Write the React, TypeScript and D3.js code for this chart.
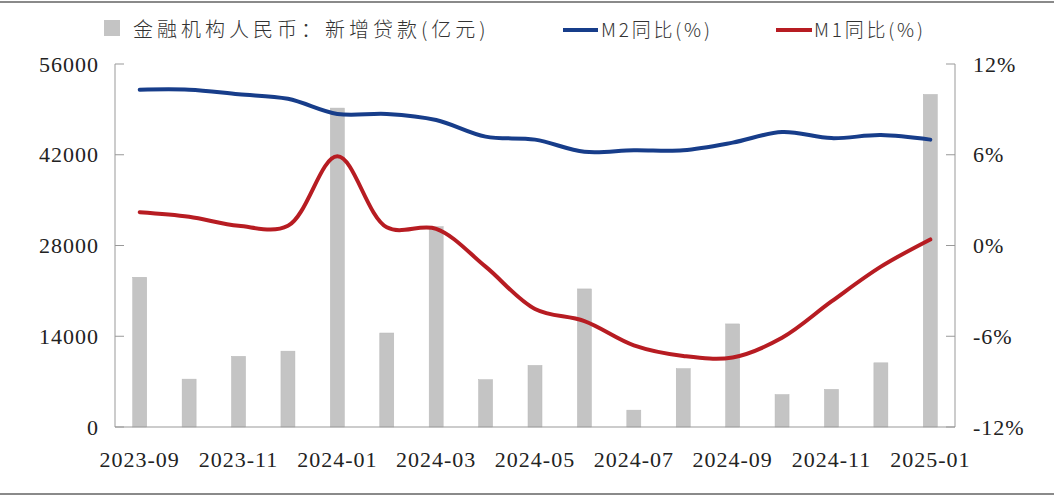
import React from "react";
import * as d3 from "d3";

const months = ["2023-09","2023-10","2023-11","2023-12","2024-01","2024-02","2024-03","2024-04","2024-05","2024-06","2024-07","2024-08","2024-09","2024-10","2024-11","2024-12","2025-01"];
const loans = [23100,7384,10900,11700,49200,14500,30900,7300,9500,21300,2600,9000,15900,5000,5800,9900,51300];
const m2 = [10.3,10.3,10.0,9.7,8.7,8.7,8.3,7.2,7.0,6.2,6.3,6.3,6.8,7.5,7.1,7.3,7.0];
const m1 = [2.2,1.9,1.3,1.3,5.9,1.2,1.1,-1.4,-4.2,-5.0,-6.6,-7.3,-7.4,-6.1,-3.7,-1.4,0.4];
const leftTicks = [0,14000,28000,42000,56000];
const rightTicks = [-12,-6,0,6,12];
const legendLabels = ["金融机构人民币：新增贷款(亿元)","M2同比(%)","M1同比(%)"];

const W = 1054, H = 500;
const L = 115, R = 955, T = 64, B = 427;

export default function App() {
  const x = d3.scaleBand<string>().domain(months).range([L, R]);
  const yL = d3.scaleLinear().domain([0, 56000]).range([B, T]);
  const yR = d3.scaleLinear().domain([-12, 12]).range([B, T]);
  const bw = 14;
  const cx = (m: string) => (x(m) as number) + x.bandwidth() / 2;
  const line = (vals: number[]) =>
    d3.line<number>().x((_, i) => cx(months[i])).y(v => yR(v)).curve(d3.curveCatmullRom.alpha(0.5))(vals) as string;
  const numFont = "'Liberation Serif', 'Times New Roman', serif";
  const cjkFont = "'Noto Sans CJK SC', sans-serif";
  return (
    <div style={{ position: "absolute", left: 0, top: 0 }}>
      <svg width={W} height={H} style={{ display: "block", background: "#fff" }}>
        <line x1={0} x2={W} y1={2} y2={2} stroke="#8a8a8a" strokeWidth={2} />
        <line x1={0} x2={W} y1={494} y2={494} stroke="#8a8a8a" strokeWidth={2} />
        {/* legend */}
        <rect x={104} y={20} width={16} height={16} fill="#c4c4c4" />
        <text x={133} y={37} fontFamily={cjkFont} fontSize={20} fill="#333" fontWeight={300} letterSpacing={4}>{legendLabels[0]}</text>
        <line x1={563} x2={598} y1={30} y2={30} stroke="#173d8a" strokeWidth={4} />
        <text x={601} y={37} fontFamily={cjkFont} fontSize={19} fill="#333" fontWeight={300} letterSpacing={2.8}>{legendLabels[1]}</text>
        <line x1={776} x2={812} y1={30} y2={30} stroke="#b71c22" strokeWidth={4} />
        <text x={814} y={37} fontFamily={cjkFont} fontSize={19} fill="#333" fontWeight={300} letterSpacing={2.8}>{legendLabels[2]}</text>
        {/* bars */}
        {loans.map((v, i) => (
          <rect key={i} x={cx(months[i]) - bw / 2} y={yL(v)} width={bw} height={B - yL(v)} fill="#c4c4c4" stroke="#b8b8b8" strokeWidth={0.5} />
        ))}
        {/* axes */}
        <line x1={L} x2={L} y1={T} y2={B} stroke="#999" strokeWidth={1} />
        <line x1={R} x2={R} y1={T} y2={B} stroke="#999" strokeWidth={1} />
        <line x1={L} x2={R} y1={B} y2={B} stroke="#999" strokeWidth={1} />
        {leftTicks.map(t => (
          <g key={t}>
            <line x1={L} x2={L + 9} y1={yL(t)} y2={yL(t)} stroke="#999" />
            <text x={L - 16} y={yL(t)} dy="0.35em" textAnchor="end" fontFamily={numFont} fontSize={22} letterSpacing={1} fill="#222">{t}</text>
          </g>
        ))}
        {rightTicks.map(t => (
          <g key={t}>
            <line x1={R - 9} x2={R} y1={yR(t)} y2={yR(t)} stroke="#999" />
            <text x={R + 18} y={yR(t)} dy="0.35em" textAnchor="start" fontFamily={numFont} fontSize={22} letterSpacing={1} fill="#222">{t + "%"}</text>
          </g>
        ))}
        {months.map((m, i) => i % 2 === 0 ? (
          <text key={m} x={cx(m)} y={467} textAnchor="middle" fontFamily={numFont} fontSize={22} letterSpacing={1} fill="#222">{m}</text>
        ) : null)}
        {/* lines */}
        <path d={line(m2)} fill="none" stroke="#173d8a" strokeWidth={4} strokeLinecap="round" />
        <path d={line(m1)} fill="none" stroke="#b71c22" strokeWidth={4} strokeLinecap="round" />
      </svg>
    </div>
  );
}
